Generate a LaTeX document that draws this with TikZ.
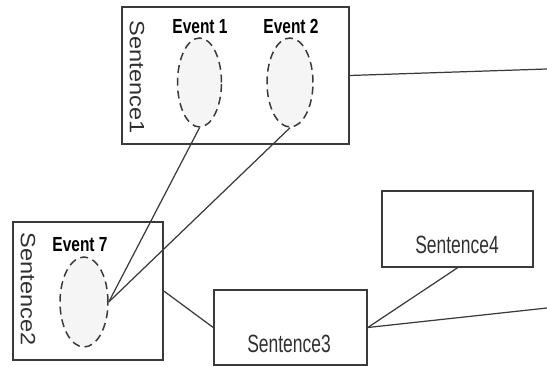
\documentclass[tikz,border=0pt]{standalone}
\usepackage{fontspec}
\setmainfont{Liberation Sans}
\usepackage{graphicx}
\usetikzlibrary{fit,shapes.geometric}
\definecolor{edgegray}{HTML}{3A3A3A}
\definecolor{textgray}{HTML}{303030}
\definecolor{fillgray}{HTML}{F5F5F5}
\tikzset{
	box/.style={draw=edgegray,line width=0.9pt,inner sep=0pt},
	ev/.style={ellipse,draw=edgegray,fill=fillgray,dash pattern=on 4.5pt off 2.8pt,line width=0.85pt,inner sep=0pt},
	evlabel/.style={text=black,font=\fontsize{11.6}{13}\selectfont\bfseries},
	sent/.style={text=textgray,font=\fontsize{14.2}{16}\selectfont},
	vsent/.style={text=textgray,font=\fontsize{13.4}{15}\selectfont,rotate=-90},
	link/.style={draw=edgegray,line width=0.7pt}
}
\begin{document}
\begin{tikzpicture}[x=0.02cm,y=-0.02cm]
				\useasboundingbox (0,0) rectangle (547,367);
				% sentence boxes
				\node[box,fit={(122,7) (349,144)}] (s1) {};
				\node[box,fit={(13,222) (163,360)}] (s2) {};
				\node[box,fit={(214,290) (367,365)}] (s3) {};
				\node[box,fit={(382,191) (533,267)}] (s4) {};
				\node[vsent] (t1) at (137,77) {\scalebox{1}[0.88]{Sentence1}};
				\node[vsent] (t2) at (28,289) {\scalebox{1}[0.88]{Sentence2}};
				\node[sent] (t3) at (289,344) {\scalebox{0.7}[1]{Sentence3}};
				\node[sent] (t4) at (457,245) {\scalebox{0.7}[1]{Sentence4}};
				% events
				\node[ev,minimum width=0.88cm,minimum height=1.78cm] (e1) at (199.5,82.5) {};
				\node[ev,minimum width=0.92cm,minimum height=1.78cm] (e2) at (290,82.5) {};
				\node[ev,minimum width=0.96cm,minimum height=1.8cm] (e7) at (84,302) {};
				\node[evlabel] (l1) at (200,26.5) {\scalebox{0.76}[1]{Event 1}};
				\node[evlabel] (l2) at (291,26.5) {\scalebox{0.76}[1]{Event 2}};
				\node[evlabel] (l7) at (80,245) {\scalebox{0.76}[1]{Event 7}};
				% links
				\coordinate (o1) at (547,69);
				\coordinate (o3) at (547,308);
				\draw[link] (s1.east) -- (o1);
				\draw[link] (e7.east) -- (e1.south);
				\draw[link] (e7.east) -- (e2.south);
				\draw[link] (s2.east) -- (s3.west);
				\draw[link] (s3.east) -- (s4.south);
				\draw[link] (s3.east) -- (o3);
\end{tikzpicture}
\end{document}
